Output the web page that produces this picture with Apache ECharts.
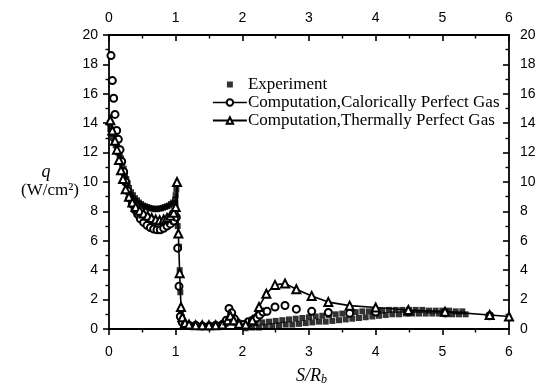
<!DOCTYPE html>
<html><head><meta charset="utf-8">
<script src="https://cdn.jsdelivr.net/npm/echarts@6/dist/echarts.min.js"></script>
<style>html,body{margin:0;padding:0;background:#fff}#c{width:545px;height:384px}</style>
</head><body><div id="c"></div>
<script>
// Axis ranges / ticks
const xRange = [0, 6];
const yRange = [0, 20];

// Experiment (filled squares) [S/Rb, q]
const experiment = [
[0.01,14.0],[0.02,13.6],[0.04,13.3],[0.06,13.0],[0.08,12.7],[0.10,12.5],[0.12,12.2],[0.14,12.0],[0.16,11.8],[0.18,11.6],[0.20,11.3],[0.22,10.9],[0.24,10.5],[0.26,10.2],[0.28,9.9],[0.30,9.6],[0.33,9.3],[0.36,9.1],[0.39,8.9],[0.42,8.75],[0.45,8.6],[0.48,8.5],[0.51,8.4],[0.54,8.35],[0.57,8.3],[0.60,8.25],[0.63,8.2],[0.66,8.2],[0.69,8.15],[0.72,8.15],[0.75,8.2],[0.78,8.2],[0.81,8.25],[0.84,8.3],[0.87,8.35],[0.90,8.4],[0.93,8.5],[0.96,8.6],[0.99,8.8],[1.00,9.1],[1.01,9.5],[1.03,7.0],[1.05,5.6],[1.06,4.0],[1.07,2.5],[1.08,1.3],[1.09,0.8],[1.11,0.5],[1.13,0.35],
[1.16,0.3],[1.2,0.25],[1.25,0.25],[1.3,0.2],[1.35,0.2],[1.4,0.2],[1.45,0.2],[1.5,0.2],[1.55,0.25],[1.6,0.2],[1.65,0.25],[1.7,0.3],[1.75,0.35],[1.8,0.45],[1.85,0.5],[1.9,0.4],[1.95,0.3],[2.0,0.2],
[2.05,0.05],[2.15,0.1],[2.25,0.1],[2.35,0.15],[2.45,0.2],[2.55,0.25],[2.65,0.3],[2.75,0.3],[2.85,0.35],[2.95,0.4],[3.05,0.45],[3.15,0.5],[3.25,0.5],[3.35,0.55],[3.45,0.6],[3.55,0.65],[3.65,0.7],[3.75,0.75],[3.85,0.8],[3.95,0.85],[4.05,0.9],[4.15,0.95],[4.25,1.0],[4.35,1.0],[4.45,1.05],[4.55,1.05],[4.65,1.05],[4.75,1.05],[4.85,1.05],[4.95,1.05],[5.05,1.0],[5.15,1.0],[5.25,1.0],[5.35,1.0],
[2.1,0.35],[2.2,0.4],[2.3,0.45],[2.4,0.5],[2.5,0.55],[2.6,0.6],[2.7,0.65],[2.8,0.7],[2.9,0.75],[3.0,0.8],[3.1,0.85],[3.2,0.9],[3.3,0.95],[3.4,1.0],[3.5,1.05],[3.6,1.1],[3.7,1.15],[3.8,1.2],[3.9,1.2],[4.0,1.25],[4.1,1.25],[4.2,1.3],[4.3,1.3],[4.4,1.3],[4.5,1.3],[4.6,1.3],[4.7,1.3],[4.8,1.25],[4.9,1.25],[5.0,1.25],[5.1,1.25],[5.2,1.2],[5.3,1.2]
];

// Computation, calorically perfect gas (hollow circles)
const caloricallyPerfect = [
[0.03,18.6],[0.05,16.9],[0.07,15.7],[0.09,14.6],[0.115,13.5],[0.14,12.9],[0.165,12.2],[0.19,11.4],[0.22,10.7],[0.25,10.0],[0.28,9.4],[0.31,8.9],[0.35,8.5],[0.39,8.1],[0.43,7.8],[0.47,7.5],[0.52,7.25],[0.57,7.05],[0.62,6.9],[0.67,6.8],[0.72,6.75],[0.77,6.75],[0.82,6.85],[0.87,7.0],[0.92,7.15],[0.97,7.35],[1.01,7.6],[1.03,5.5],[1.05,2.9],[1.07,0.85],[1.10,0.45],[1.14,0.3],[1.2,0.25],[1.3,0.25],[1.4,0.2],[1.5,0.2],[1.6,0.25],[1.7,0.3],[1.76,0.6],[1.8,1.4],[1.84,1.1],[1.88,0.7],[1.95,0.35],[2.02,0.3],[2.09,0.5],[2.15,0.6],[2.21,0.75],[2.26,0.95],[2.31,1.15],[2.37,1.2],[2.49,1.5],[2.64,1.6],[2.81,1.35],[3.04,1.2],[3.29,1.12],[3.61,1.07],[4.0,1.15],[4.49,1.15],[5.04,1.1],[5.71,0.9]
];

// Computation, thermally perfect gas (hollow triangles)
const thermallyPerfect = [
[0.02,14.2],[0.05,13.5],[0.09,12.8],[0.12,12.2],[0.15,11.5],[0.18,10.8],[0.21,10.2],[0.25,9.5],[0.30,9.0],[0.35,8.6],[0.40,8.3],[0.46,8.05],[0.52,7.85],[0.58,7.7],[0.64,7.55],[0.70,7.45],[0.76,7.4],[0.82,7.45],[0.87,7.55],[0.92,7.7],[0.97,7.9],[1.00,8.3],[1.02,10.0],[1.04,6.5],[1.06,3.8],[1.08,1.5],[1.10,0.8],[1.14,0.4],[1.2,0.3],[1.3,0.25],[1.4,0.25],[1.5,0.25],[1.6,0.25],[1.7,0.3],[1.78,0.6],[1.82,0.9],[1.87,0.6],[1.95,0.35],[2.05,0.3],[2.15,0.6],[2.25,1.5],[2.36,2.4],[2.49,3.0],[2.64,3.1],[2.81,2.7],[3.04,2.25],[3.29,1.83],[3.61,1.59],[4.0,1.46],[4.49,1.29],[5.04,1.18],[5.71,0.95],[6.0,0.85]
];

const seriesNames = ['Experiment', 'Computation,Calorically Perfect Gas', 'Computation,Thermally Perfect Gas'];

const chart = echarts.init(document.getElementById('c'), null, {renderer: 'canvas'});
const labelFont = {color: '#000', fontSize: 14, fontFamily: 'Liberation Sans'};
function xAx(pos) {
  const top = pos === 'top';
  return {
    type: 'value', position: pos, min: xRange[0], max: xRange[1], interval: 1,
    axisLine: {onZero: false, lineStyle: {color: '#000', width: 1.8}},
    axisTick: {inside: top, length: 6, lineStyle: {color: '#000', width: 1.6}},
    minorTick: {show: true, splitNumber: 2, length: 3.5, lineStyle: {color: '#000', width: 1.4}},
    splitLine: {show: false},
    axisLabel: Object.assign({margin: top ? 10 : 16}, labelFont)
  };
}
function yAx(pos) {
  const right = pos === 'right';
  return {
    type: 'value', position: pos, min: yRange[0], max: yRange[1], interval: 2,
    axisLine: {onZero: false, lineStyle: {color: '#000', width: 1.8}},
    axisTick: {inside: right, length: 6, lineStyle: {color: '#000', width: 1.6}},
    minorTick: {show: true, splitNumber: 2, length: 3.5, lineStyle: {color: '#000', width: 1.4}},
    splitLine: {show: false},
    axisLabel: Object.assign({margin: 11}, labelFont)
  };
}

chart.setOption({
  animation: false,
  backgroundColor: '#fff',
  grid: {left: 109, right: 36, top: 35, bottom: 55},
  xAxis: [xAx('bottom'), xAx('top')],
  yAxis: [yAx('left'), yAx('right')],
  legend: {
    orient: 'vertical', left: 207, top: 71,
    itemWidth: 34, itemHeight: 8, itemGap: 1,
    textStyle: {fontFamily: 'Liberation Serif', fontSize: 17, color: '#000', lineHeight: 16, padding: [0,0,0,-4]},
    data: [
      {name: seriesNames[0], icon: 'path://M0,0M34,8M14,1h6v6h-6z', itemStyle: {color: '#000'}},
      {name: seriesNames[1], lineStyle: {width: 1.6, color: '#000', opacity: 1}},
      {name: seriesNames[2], lineStyle: {width: 1.8, color: '#000', opacity: 1}}
    ]
  },
  series: [
    {name: seriesNames[0], type: 'scatter', data: experiment, symbol: 'rect', symbolSize: 6,
     itemStyle: {color: '#000'}, z: 2},
    {name: seriesNames[1], type: 'line', data: caloricallyPerfect, symbol: 'emptyCircle', symbolSize: 7,
     showAllSymbol: true, color: '#000', itemStyle: {color: '#000', borderWidth: 1},
     lineStyle: {width: 1.5, opacity: 0}, z: 3},
    {name: seriesNames[2], type: 'line', data: thermallyPerfect, symbol: 'emptyTriangle', symbolSize: 8,
     showAllSymbol: true, color: '#000', itemStyle: {color: '#000', borderWidth: 1},
     lineStyle: {width: 1.6, color: '#000'}, z: 4}
  ],
  graphic: [
    {type: 'text', style: {x: 46, y: 172, text: 'q', font: 'italic 18px "Liberation Serif"', fill: '#000', align: 'center', verticalAlign: 'middle'}},
    {type: 'text', style: {x: 50, y: 191, text: '(W/cm²)', font: '17px "Liberation Serif"', fill: '#000', align: 'center', verticalAlign: 'middle'}},
    {type: 'text', style: {x: 296, y: 376, text: '{a|S/R}{b|b}', fill: '#000', verticalAlign: 'middle',
      rich: {a: {fontFamily: 'Liberation Serif', fontStyle: 'italic', fontSize: 18, color: '#000'},
             b: {fontFamily: 'Liberation Serif', fontStyle: 'italic', fontSize: 12, color: '#000', padding: [8,0,0,0]}}}}
  ]
});
</script></body></html>
